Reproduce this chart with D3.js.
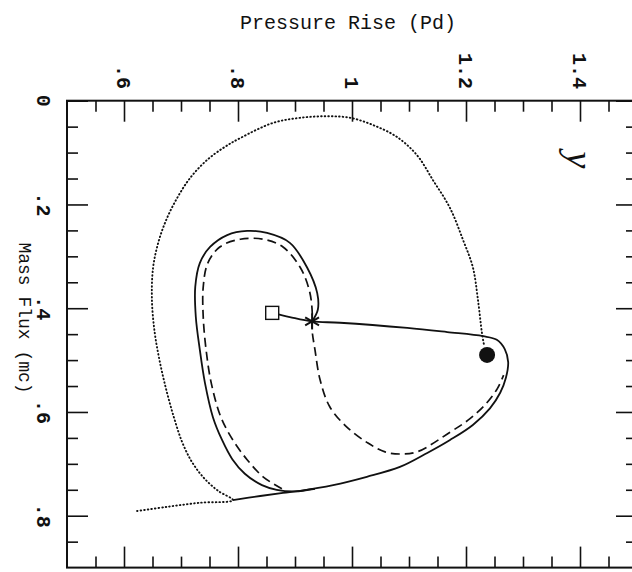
<!DOCTYPE html>
<html>
<head>
<meta charset="utf-8">
<script src="https://cdn.jsdelivr.net/npm/d3@7"></script>
<style>
  body { margin: 0; background: #fff; }
  svg { display: block; }
</style>
</head>
<body>
<div id="chart"></div>
<script>
// axes (the chart is drawn turned a quarter turn clockwise)
const pressureTickValues = [0.6, 0.8, 1, 1.2, 1.4];
const pressureTickLabels = [".6", ".8", "1", "1.2", "1.4"];
const fluxTickValues = [0, 0.2, 0.4, 0.6, 0.8];
const fluxTickLabels = ["0", ".2", ".4", ".6", ".8"];

// dotted trajectory (outer loop)
const dottedFlux = [0.791, 0.783, 0.775, 0.770, 0.752, 0.727, 0.696, 0.658, 0.612, 0.561, 0.504, 0.448, 0.384, 0.322, 0.274, 0.230, 0.188, 0.149, 0.114, 0.089, 0.072, 0.043, 0.033, 0.030, 0.033, 0.047, 0.070, 0.105, 0.153, 0.207, 0.269, 0.321, 0.384, 0.448, 0.473];
const dottedPressure = [0.623, 0.675, 0.733, 0.791, 0.765, 0.740, 0.719, 0.702, 0.688, 0.675, 0.663, 0.654, 0.649, 0.651, 0.660, 0.674, 0.693, 0.716, 0.746, 0.777, 0.804, 0.861, 0.909, 0.956, 0.997, 1.037, 1.079, 1.114, 1.142, 1.172, 1.195, 1.212, 1.221, 1.228, 1.232];

// solid trajectory: lower branch, bulge and return to the square
const solidFlux = [0.770, 0.762, 0.756, 0.752, 0.741, 0.725, 0.706, 0.679, 0.654, 0.625, 0.593, 0.563, 0.534, 0.504, 0.479, 0.461, 0.454, 0.446, 0.438, 0.428, 0.4255, 0.417, 0.409];
const solidPressure = [0.791, 0.839, 0.879, 0.909, 0.967, 1.026, 1.084, 1.132, 1.172, 1.212, 1.242, 1.260, 1.270, 1.274, 1.268, 1.254, 1.230, 1.167, 1.097, 0.979, 0.930, 0.891, 0.860];

// solid trajectory: inner loop from the star
const loopFlux = [0.4255, 0.403, 0.371, 0.321, 0.274, 0.255, 0.251, 0.259, 0.282, 0.313, 0.359, 0.417, 0.480, 0.544, 0.610, 0.654, 0.691, 0.719, 0.741, 0.750, 0.753, 0.748];
const loopPressure = [0.930, 0.940, 0.939, 0.921, 0.891, 0.851, 0.816, 0.781, 0.751, 0.733, 0.725, 0.726, 0.733, 0.742, 0.756, 0.772, 0.790, 0.812, 0.842, 0.868, 0.900, 0.935];

// dashed trajectory
const dashedFlux = [0.748, 0.725, 0.692, 0.654, 0.610, 0.544, 0.480, 0.417, 0.359, 0.313, 0.282, 0.267, 0.267, 0.282, 0.321, 0.365, 0.403, 0.442, 0.480, 0.538, 0.590, 0.629, 0.660, 0.677, 0.681, 0.677, 0.639, 0.613, 0.583, 0.555, 0.529];
const dashedPressure = [0.877, 0.844, 0.816, 0.791, 0.770, 0.753, 0.744, 0.739, 0.739, 0.747, 0.768, 0.804, 0.844, 0.879, 0.909, 0.925, 0.930, 0.930, 0.935, 0.944, 0.961, 0.991, 1.028, 1.058, 1.084, 1.114, 1.172, 1.207, 1.236, 1.255, 1.266];

// markers
const squarePoint = { flux: 0.409, pressure: 0.860 };
const starPoint = { flux: 0.4255, pressure: 0.930 };
const circlePoint = { flux: 0.490, pressure: 1.237 };

const width = 632, height = 572;
const ink = "#111";
const mono = "'Liberation Mono', 'DejaVu Sans Mono', monospace";

const svg = d3.select("#chart").append("svg")
    .attr("width", width)
    .attr("height", height);

const x = d3.scaleLinear().domain([0.5, 1.5]).range([67, 637]);   // pressure
const y = d3.scaleLinear().domain([0, 0.9]).range([100.7, 567.6]); // mass flux

const pressureAll = d3.range(11, 30).map(i => i * 0.05);
const pressureMinor = pressureAll.filter((d, i) => (i + 11) % 4 !== 0);
const fluxAll = d3.range(1, 18).map(i => i * 0.05);
const fluxMinor = fluxAll.filter((d, i) => (i + 1) % 4 !== 0);

function tickRow(axisFn, scale, values, size, transform) {
    svg.append("g")
        .attr("transform", transform)
        .call(axisFn(scale).tickValues(values).tickSize(-size).tickFormat(""))
        .call(g => g.select(".domain").remove())
        .call(g => g.selectAll("line").attr("stroke", ink).attr("stroke-width", 1.6));
}

tickRow(d3.axisTop, x, pressureMinor, 11, `translate(0,${y(0)})`);
tickRow(d3.axisTop, x, pressureTickValues, 21, `translate(0,${y(0)})`);
tickRow(d3.axisBottom, x, pressureMinor, 11, `translate(0,${y(0.9)})`);
tickRow(d3.axisBottom, x, pressureTickValues, 21, `translate(0,${y(0.9)})`);
tickRow(d3.axisLeft, y, fluxMinor, 11, `translate(${x(0.5)},0)`);
tickRow(d3.axisLeft, y, fluxTickValues, 21, `translate(${x(0.5)},0)`);
tickRow(d3.axisRight, y, fluxMinor, 11, `translate(${x(1.5)},0)`);
tickRow(d3.axisRight, y, fluxTickValues, 21, `translate(${x(1.5)},0)`);

// frame
svg.append("rect")
    .attr("x", x(0.5))
    .attr("y", y(0))
    .attr("width", x(1.5) - x(0.5))
    .attr("height", y(0.9) - y(0))
    .attr("fill", "none")
    .attr("stroke", ink)
    .attr("stroke-width", 2);

// tick labels, turned clockwise
svg.selectAll(".plabel")
    .data(pressureTickValues)
    .enter().append("text")
    .attr("class", "plabel")
    .attr("transform", d => `translate(${x(d)},89) rotate(90)`)
    .attr("dy", "0.35em")
    .attr("text-anchor", "end")
    .style("font-family", mono)
    .style("font-size", "20px")
    .style("font-weight", "bold")
    .attr("fill", ink)
    .text((d, i) => pressureTickLabels[i]);

svg.selectAll(".flabel")
    .data(fluxTickValues)
    .enter().append("text")
    .attr("class", "flabel")
    .attr("transform", d => `translate(37,${y(d)}) rotate(90)`)
    .attr("text-anchor", "middle")
    .style("font-family", mono)
    .style("font-size", "20px")
    .style("font-weight", "bold")
    .attr("fill", ink)
    .text((d, i) => fluxTickLabels[i]);

// axis titles
svg.append("text")
    .attr("x", 348)
    .attr("y", 29)
    .attr("text-anchor", "middle")
    .style("font-family", mono)
    .style("font-size", "20px")
    .attr("fill", ink)
    .text("Pressure Rise (Pd)");

svg.append("text")
    .attr("transform", "translate(19,318) rotate(90)")
    .attr("text-anchor", "middle")
    .style("font-family", mono)
    .style("font-size", "18px")
    .attr("fill", ink)
    .text("Mass Flux (mc)");

svg.append("text")
    .attr("transform", "translate(567,160) rotate(90)")
    .attr("text-anchor", "middle")
    .style("font-family", "'Liberation Serif', serif")
    .style("font-style", "italic")
    .style("font-size", "38px")
    .attr("fill", ink)
    .text("y");

// trajectories
const line = d3.line()
    .x(d => x(d[1]))
    .y(d => y(d[0]))
    .curve(d3.curveCatmullRom.alpha(0.5));

function trajectory(flux, pressure, dash, w, cap) {
    svg.append("path")
        .datum(d3.zip(flux, pressure))
        .attr("d", line)
        .attr("fill", "none")
        .attr("stroke", ink)
        .attr("stroke-width", w)
        .attr("stroke-linecap", cap)
        .attr("stroke-dasharray", dash);
}

trajectory(dottedFlux, dottedPressure, "0.6 3", 1.9, "round");
trajectory(dashedFlux, dashedPressure, "9 5", 1.7, "butt");
trajectory(solidFlux, solidPressure, null, 1.8, "butt");
trajectory(loopFlux, loopPressure, null, 1.8, "butt");

// markers
svg.append("rect")
    .attr("x", x(squarePoint.pressure) - 6.5)
    .attr("y", y(squarePoint.flux) - 6.5)
    .attr("width", 13)
    .attr("height", 13)
    .attr("fill", "#fff")
    .attr("stroke", ink)
    .attr("stroke-width", 1.4);

const sx = x(starPoint.pressure), sy = y(starPoint.flux);
[90, 30, -30].forEach(a => {
    const r = a * Math.PI / 180, len = 8;
    svg.append("line")
        .attr("x1", sx - len * Math.cos(r)).attr("y1", sy - len * Math.sin(r))
        .attr("x2", sx + len * Math.cos(r)).attr("y2", sy + len * Math.sin(r))
        .attr("stroke", ink)
        .attr("stroke-width", 2);
});

svg.append("circle")
    .attr("cx", x(circlePoint.pressure))
    .attr("cy", y(circlePoint.flux))
    .attr("r", 8)
    .attr("fill", ink);
</script>
</body>
</html>
